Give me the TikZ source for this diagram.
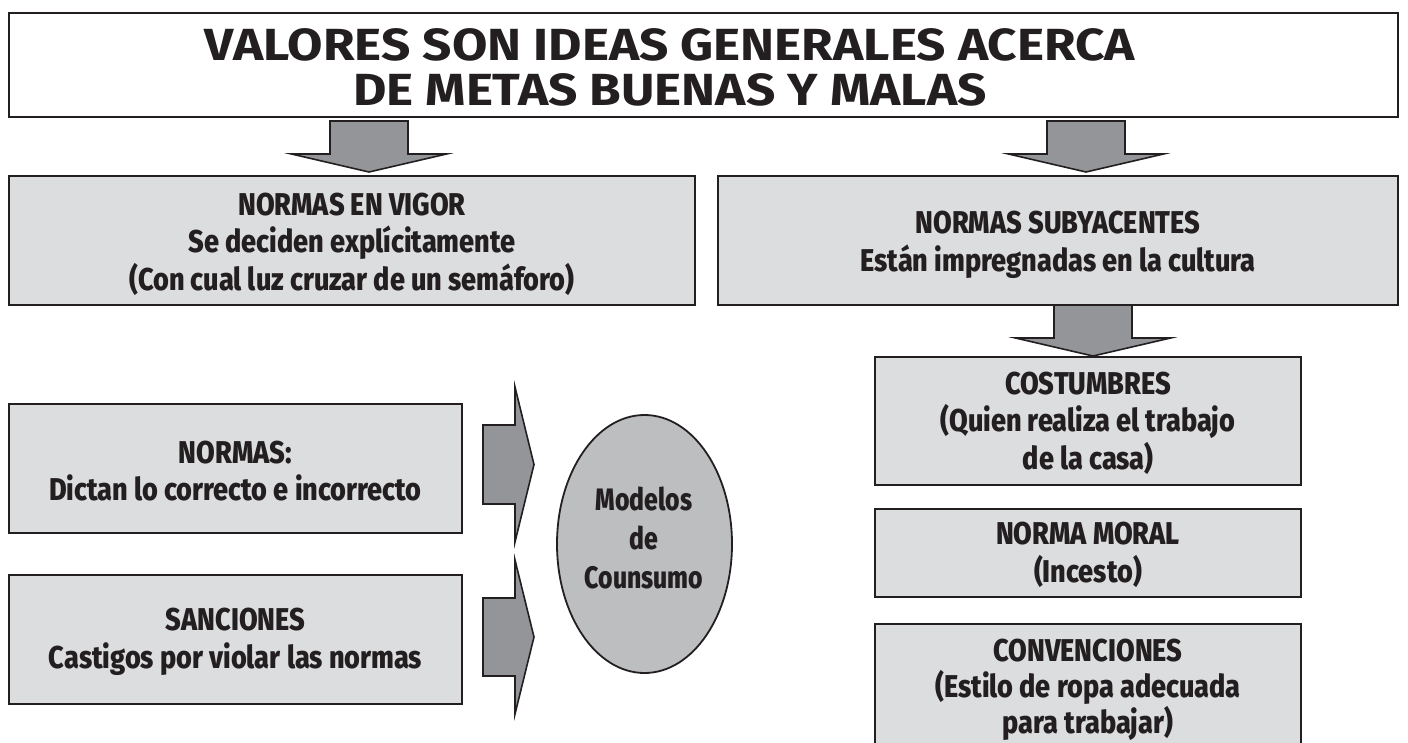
\documentclass[tikz,border=0pt]{standalone}
\usepackage{fontspec}
\setmainfont{Fira Sans}
\newfontfamily\titlefont[FakeStretch=1.14]{Fira Sans}
\newfontfamily\condfont[FakeStretch=0.86, BoldFont={Fira Sans ExtraBold}]{Fira Sans}
\newfontfamily\ellfont[FakeStretch=0.8, BoldFont={Fira Sans ExtraBold}]{Fira Sans}
\usetikzlibrary{shapes.geometric}
\definecolor{ink}{HTML}{231F20}
\definecolor{boxfill}{HTML}{DCDDDE}
\definecolor{arrfill}{HTML}{939598}
\definecolor{ellfill}{HTML}{BCBEC0}
\tikzset{
  titlebox/.style={draw=ink, line width=2.6pt, fill=white, inner sep=0pt},
  graybox/.style={draw=ink, line width=2.4pt, fill=boxfill, inner sep=0pt},
  txt/.style={align=center, text=ink, font=\condfont\bfseries\fontsize{31.5}{37.5}\selectfont, inner sep=0pt},
  blockarrow/.style={draw=ink, line width=1.6pt, fill=arrfill, line join=miter},
  ellnode/.style={ellipse, draw=ink, line width=1.8pt, fill=ellfill, inner sep=0pt},
}
% down block arrow: cx, ytop, ybase, ytip, shaft half, head half
\newcommand{\downarrowblk}[6]{%
  \draw[blockarrow] (#1-#5,#2) -- (#1+#5,#2) -- (#1+#5,#3) -- (#1+#6,#3) -- (#1,#4) -- (#1-#6,#3) -- (#1-#5,#3) -- cycle;}
% right block arrow: cy, xleft, xbase, xtip, shaft half, head half
\newcommand{\rightarrowblk}[6]{%
  \draw[blockarrow] (#2,#1-#5) -- (#3,#1-#5) -- (#3,#1-#6) -- (#4,#1) -- (#3,#1+#6) -- (#3,#1+#5) -- (#2,#1+#5) -- cycle;}
\begin{document}
\begin{tikzpicture}[x=1pt,y=-1pt]
\useasboundingbox (0,0) rectangle (1408,742);

% title
\node[titlebox, minimum width=1389pt, minimum height=104pt] (title) at (703.5,65) {};
\node[align=center, text=ink, font=\titlefont\bfseries\fontsize{45}{45}\selectfont, inner sep=0pt] (titletxt) at (670,67)
  {VALORES SON IDEAS GENERALES ACERCA\\DE METAS BUENAS Y MALAS};

% second row boxes
\node[graybox, minimum width=686pt, minimum height=129pt] (vigor) at (352,240.5) {};
\node[txt] at (352,244) {NORMAS EN VIGOR\\Se deciden explícitamente\\(Con cual luz cruzar de un semáforo)};
\node[graybox, minimum width=680pt, minimum height=129pt] (suby) at (1058,240.5) {};
\node[txt] at (1058,245) {NORMAS SUBYACENTES\\Están impregnadas en la cultura};

% arrows from title
\downarrowblk{369}{121}{154}{172}{39}{77.5}
\downarrowblk{1086}{121}{154}{172}{39}{77.5}
% arrow suby -> costumbres
\downarrowblk{1093}{305}{338}{356}{39}{77.5}

% right column
\node[graybox, minimum width=426pt, minimum height=128pt] (cost) at (1088,421) {};
\node[txt] at (1088,423) {COSTUMBRES\\(Quien realiza el trabajo\\de la casa)};
\node[graybox, minimum width=426pt, minimum height=88pt] (moral) at (1088,553) {};
\node[txt] at (1088,555) {NORMA MORAL\\(Incesto)};
\begin{scope}
\clip (0,0) rectangle (1408,742);
\node[graybox, minimum width=426pt, minimum height=150pt] (conv) at (1088,699) {};
\end{scope}
\node[txt, font=\condfont\bfseries\fontsize{31.5}{36}\selectfont] at (1088,690) {CONVENCIONES\\(Estilo de ropa adecuada\\para trabajar)};

% left column
\node[graybox, minimum width=453pt, minimum height=129pt] (normas) at (235.5,468.5) {};
\node[txt] at (235.5,471) {NORMAS:\\Dictan lo correcto e incorrecto};
\node[graybox, minimum width=453pt, minimum height=129pt] (sanc) at (235.5,639.5) {};
\node[txt] at (235.5,642) {SANCIONES\\Castigos por violar las normas};

% ellipse
\node[ellnode, minimum width=175pt, minimum height=258pt] (ell) at (644.5,544) {};
\node[align=center, text=ink, inner sep=0pt, font=\ellfont\bfseries\fontsize{31}{39}\selectfont] at (644,538) {Modelos\\de\\Counsumo};

% right arrows
\rightarrowblk{464.5}{483}{515}{534}{39.5}{77.5}
\rightarrowblk{637}{483}{515}{534}{39}{77}
\end{tikzpicture}
\end{document}
